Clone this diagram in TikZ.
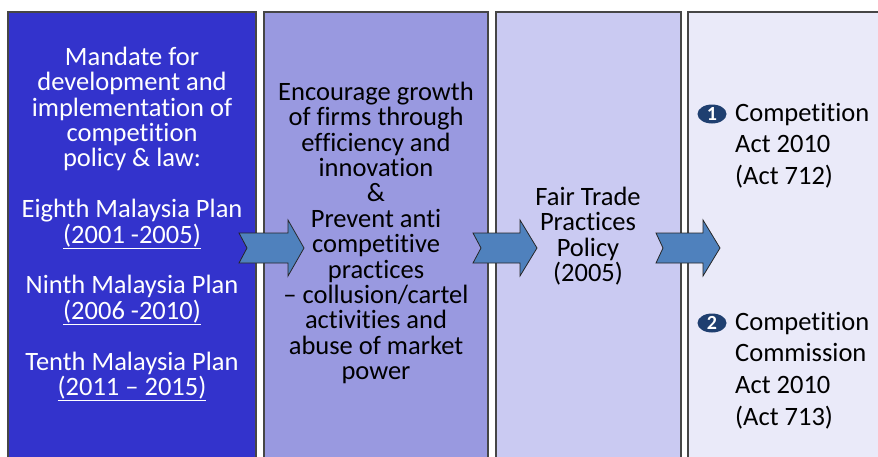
\documentclass[tikz,border=0pt]{standalone}
\usepackage{fontspec}
\setmainfont{Carlito}[Ligatures=NoCommon]
\usetikzlibrary{shapes.geometric}
\definecolor{pone}{RGB}{51,51,204}
\definecolor{ptwo}{RGB}{153,153,224}
\definecolor{pthree}{RGB}{202,202,242}
\definecolor{pfour}{RGB}{234,234,249}
\definecolor{arrowblue}{RGB}{79,129,189}
\definecolor{bulletblue}{RGB}{31,63,112}
\definecolor{edgegray}{RGB}{70,70,70}
\newcommand{\fstrut}{\rule{0pt}{22pt}}
\newcommand{\tightlines}{\setlength{\lineskiplimit}{-30pt}}
\tikzset{
  panel/.style={draw=edgegray, line width=1.6pt},
  bigtext/.style={font={\fontsize{26.5}{25.4}\selectfont\tightlines}, align=center, inner sep=0pt, anchor=north},
  acttext/.style={font={\fontsize{26.5}{31.6}\selectfont\tightlines}, align=left, inner sep=0pt, anchor=north west},
  blockarrow/.style={draw=black!85, line width=0.8pt, fill=arrowblue, line join=miter},
  bulletdot/.style={ellipse, fill=bulletblue, minimum width=29pt, minimum height=19pt, inner sep=0pt, text=white, font={\fontsize{20}{20}\selectfont\bfseries}}
}
\newcommand{\blockarr}[5]{% left, notch, headstart, tip, centre y
  \draw[blockarrow] (#1,#5-15) -- (#3,#5-15) -- (#3,#5-28) -- (#4,#5) -- (#3,#5+28) -- (#3,#5+15) -- (#1,#5+15) -- (#2,#5) -- cycle;}
\begin{document}
\begin{tikzpicture}[x=1pt,y=-1pt]
\useasboundingbox (0,0) rectangle (878,456);
\clip (0,0) rectangle (878,456);
\fill[white] (0,0) rectangle (878,456);
% panels
\filldraw[panel, fill=pone] (8,12) rectangle (256,470);
\filldraw[panel, fill=ptwo] (264,12) rectangle (488,470);
\filldraw[panel, fill=pthree] (496,12) rectangle (681,470);
\filldraw[panel, fill=pfour] (688,12) rectangle (900,470);
% panel 1 text
\node[bigtext, text=white] (mandate) at (132,43) {\fstrut Mandate for\\development and\\implementation of\\competition\\policy \& law:\\[25.4pt]Eighth Malaysia Plan\\\underline{(2001 -2005)}\\[25.4pt]Ninth Malaysia Plan\\\underline{(2006 -2010)}\\[25.4pt]Tenth Malaysia Plan\\\underline{(2011 – 2015)}};
% panel 2 text
\node[bigtext, text=black] (encourage) at (376,78) {\fstrut Encourage growth\\of firms through\\efficiency and\\innovation\\\&\\Prevent anti\\competitive\\practices\\– collusion/cartel\\activities and\\abuse of market\\power};
% panel 3 text
\node[bigtext, text=black] (fairtrade) at (588,183) {\fstrut Fair Trade\\Practices\\Policy\\(2005)};
% panel 4 text
\node[bulletdot] (b1) at (712,114) {1};
\node[acttext] (act1) at (735,99) {\fstrut Competition\\Act 2010\\(Act 712)};
\node[bulletdot] (b2) at (712,323) {2};
\node[acttext] (act2) at (735,308) {\fstrut Competition\\Commission\\Act 2010\\(Act 713)};
% arrows
\blockarr{239}{247}{288}{304}{248}
\blockarr{473}{481}{520}{537}{248}
\blockarr{656}{663}{703}{720}{248}
\end{tikzpicture}
\end{document}
